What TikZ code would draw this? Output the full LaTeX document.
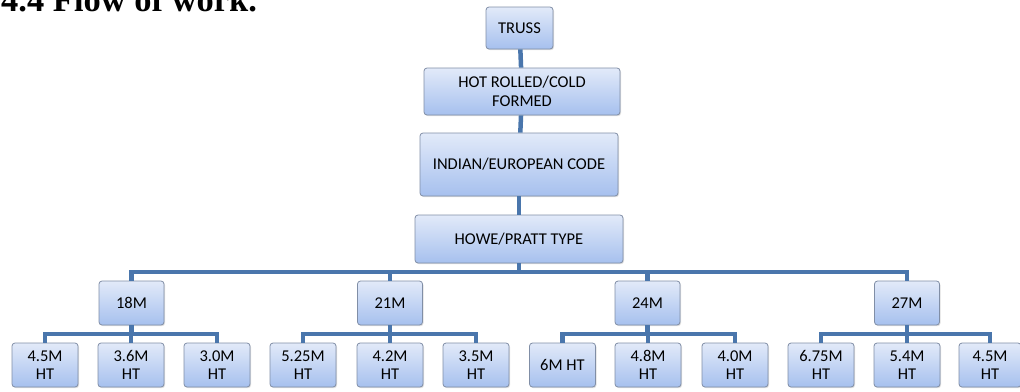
\documentclass[tikz,border=0pt]{standalone}
\usepackage{fontspec}
\setmainfont{Carlito}
\newfontfamily\titlefont{Liberation Serif}
\usetikzlibrary{positioning,shadows}

\definecolor{boxtop}{RGB}{226,234,249}
\definecolor{boxbot}{RGB}{166,192,238}
\definecolor{boxline}{RGB}{128,142,166}
\definecolor{linkblue}{RGB}{74,118,172}

\begin{document}
\begin{tikzpicture}[x=1pt, y=-1pt]
\tikzstyle{box}=[rectangle, rounded corners=3pt, draw=boxline, line width=0.8pt,
                 top color=boxtop, bottom color=boxbot, inner sep=0pt,
                 align=center, font=\fontsize{16.5}{18.5}\selectfont,
                 drop shadow={opacity=0.25, shadow xshift=1pt, shadow yshift=-1.2pt}]
\tikzstyle{mid}=[box, minimum width=65pt, minimum height=44pt]
\tikzstyle{leaf}=[box, minimum width=66pt, minimum height=44pt]
\tikzstyle{link}=[draw=linkblue, line width=4.5pt]
\useasboundingbox (0,0) rectangle (1020,391);
\node[anchor=base west, font=\titlefont\bfseries\fontsize{34.5}{40}\selectfont,
      inner sep=0pt] (title) at (1,11.5) {4.4 Flow of work.};
% top chain
\node[box, minimum width=67pt, minimum height=42pt] (truss) at (519.5,28) {TRUSS};
\node[box, minimum width=196pt, minimum height=47pt] (rolled) at (522,91.5)
     {HOT ROLLED/COLD\\FORMED};
\node[box, minimum width=198pt, minimum height=63pt] (code) at (519,164.5)
     {INDIAN/EUROPEAN CODE};
\node[box, minimum width=208pt, minimum height=48pt] (type) at (519,239)
     {HOWE/PRATT TYPE};
% spans
\node[mid] (s18) at (131.5,303) {18M};
\node[mid] (s21) at (390,303) {21M};
\node[mid] (s24) at (647.5,303) {24M};
\node[mid] (s27) at (907,303) {27M};
% heights
\node[leaf] (h1) at (45,365) {4.5M\\HT};
\node[leaf] (h2) at (131,365) {3.6M\\HT};
\node[leaf] (h3) at (217,365) {3.0M\\HT};
\node[leaf] (h4) at (303,365) {5.25M\\HT};
\node[leaf] (h5) at (390,365) {4.2M\\HT};
\node[leaf] (h6) at (476,365) {3.5M\\HT};
\node[leaf] (h7) at (562.5,365) {6M HT};
\node[leaf] (h8) at (648,365) {4.8M\\HT};
\node[leaf] (h9) at (735,365) {4.0M\\HT};
\node[leaf] (h10) at (821,365) {6.75M\\HT};
\node[leaf] (h11) at (907,365) {5.4M\\HT};
\node[leaf, minimum width=62pt] (h12) at (990,365) {4.5M\\HT};
\coordinate (bus) at (0,272);
\coordinate (sub) at (0,334);
% connectors
\draw[link] (truss) -- (rolled);
\draw[link] (rolled) -- (code);
\draw[link] (code) -- (type);
\foreach \s in {s18,s21,s24,s27}
  \draw[link] (type.south) -- (type.south |- bus) -| (\s.north);
\foreach \h in {h1,h2,h3}
  \draw[link] (s18.south) -- (s18.south |- sub) -| (\h.north);
\foreach \h in {h4,h5,h6}
  \draw[link] (s21.south) -- (s21.south |- sub) -| (\h.north);
\foreach \h in {h7,h8,h9}
  \draw[link] (s24.south) -- (s24.south |- sub) -| (\h.north);
\foreach \h in {h10,h11,h12}
  \draw[link] (s27.south) -- (s27.south |- sub) -| (\h.north);
\end{tikzpicture}
\end{document}
